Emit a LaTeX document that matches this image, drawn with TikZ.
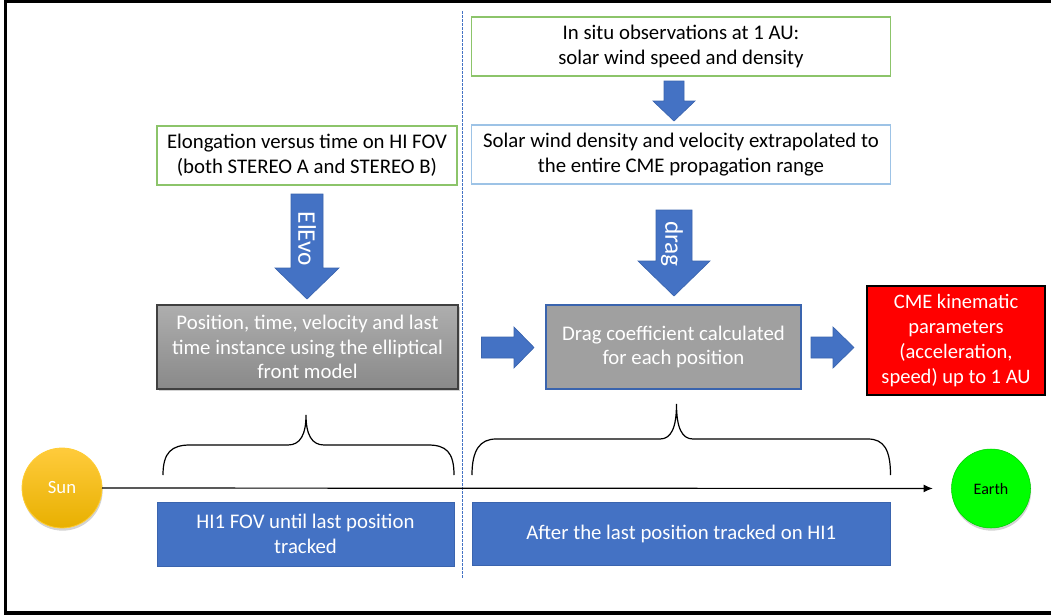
\documentclass[tikz,border=0pt]{standalone}
\usepackage{fontspec}
\setmainfont{Carlito}
\usetikzlibrary{shadows,arrows.meta}
\definecolor{obl}{HTML}{4472C4}
\definecolor{obldark}{HTML}{3A64AE}
\definecolor{lgreen}{HTML}{8CC46A}
\definecolor{lblue}{HTML}{9DC3E6}
\definecolor{sunc}{HTML}{FFC000}
\definecolor{sunl}{HTML}{FFCB3C}
\definecolor{sund}{HTML}{E8B000}
\definecolor{grayA}{HTML}{AEAEAE}
\definecolor{grayB}{HTML}{898989}
\definecolor{grayC}{HTML}{A0A0A0}
\begin{document}
\begin{tikzpicture}[x=0.75pt,y=-0.75pt,
  sz/.style 2 args={minimum width={#1*0.75pt},minimum height={#2*0.75pt}},
  base/.style={inner sep=0pt,outer sep=0pt,align=center,font=\fontsize{15.6}{18.6}\selectfont},
  greenbox/.style={base,draw=lgreen,line width=0.9pt,fill=white},
  bluebox/.style={base,draw=lblue,line width=0.9pt,fill=white},
  graybox/.style={base,draw=black!75,line width=0.9pt,top color=grayA,bottom color=grayB,text=white,
     drop shadow={shadow xshift=1.5pt,shadow yshift=-1.5pt,opacity=0.35}},
  graybox2/.style={base,draw=obldark,line width=0.8pt,fill=grayC,text=white},
  redbox/.style={base,draw=black,line width=1.1pt,fill=red,text=white,font=\fontsize{15.4}{18.8}\selectfont},
  fillbox/.style={base,draw=obldark,line width=0.6pt,fill=obl,text=white},
  blockarrow/.style={fill=obl,draw=obldark,line width=0.5pt},
  brace/.style={draw=black,line width=0.9pt},
  arrowtext/.style={text=white,rotate=-90,inner sep=0pt,font=\fontsize{19}{20}\selectfont}
]
\useasboundingbox (0,0) rectangle (1051,615);
% frame
\draw[line width=2.3pt,line cap=rect] (1052,1.5) -- (5.5,1.5) -- (5.5,613) -- (1052,613);
% dashed divider
\draw[obl,line width=0.6pt,dash pattern=on 2pt off 1pt] (462.5,11) -- (462.5,578);

% boxes
\node[greenbox,sz={300}{59}] (elong) at (307,155.5) {Elongation versus time on HI FOV\\(both STEREO A and STEREO B)};
\node[greenbox,sz={419}{59}] (insitu) at (681,46.5) {In situ observations at 1 AU:\\solar wind speed and density};
\node[bluebox,sz={419}{59}] (swext) at (681,154.5) {Solar wind density and velocity extrapolated to\\the entire CME propagation range};
\node[graybox,sz={301}{84}] (pos) at (307.5,347) {Position, time, velocity and last\\time instance using the elliptical\\front model};
\node[graybox2,sz={255}{84}] (dragc) at (673.5,347) {Drag coefficient calculated\\for each position};
\node[redbox,sz={178}{109}] (cme) at (956,340.5) {CME kinematic\\parameters\\(acceleration,\\speed) up to 1 AU};
\node[fillbox,sz={297}{64}] (hi1) at (305.5,534) {HI1 FOV until last position\\tracked};
\node[fillbox,sz={418.5}{63}] (after) at (681.25,533.5) {After the last position tracked on HI1};

% block arrows
\draw[blockarrow] (291,194) -- (323,194) -- (323,268) -- (339,268) -- (307,299) -- (275,268) -- (291,268) -- cycle;
\node[arrowtext] (elevo) at (307,239) {ElEvo};
\draw[blockarrow] (664,81) -- (684,81) -- (684,101) -- (695,101) -- (674,121) -- (653,101) -- (664,101) -- cycle;
\draw[blockarrow] (656,210) -- (692,210) -- (692,261) -- (710,261) -- (674,296) -- (638,261) -- (656,261) -- cycle;
\node[arrowtext] (dragt) at (672,244) {drag};
\draw[blockarrow] (481.5,337) -- (514,337) -- (514,327) -- (534,347.5) -- (514,368) -- (514,358) -- (481.5,358) -- cycle;
\draw[blockarrow] (811,337) -- (833,337) -- (833,327) -- (854,347.5) -- (833,368) -- (833,358) -- (811,358) -- cycle;

% braces
\draw[brace] (163,475) .. controls (163,452) and (172,445) .. (190,445) -- (288,445)
  .. controls (300,445) and (306,435) .. (306,415) .. controls (306,435) and (312,445) .. (324,445)
  -- (428,445) .. controls (446,445) and (454,452) .. (454,475);
\draw[brace] (472,475) .. controls (472,450) and (480,439) .. (496,439) -- (660,439)
  .. controls (671,439) and (676.5,428) .. (676.5,404) .. controls (676.5,428) and (682,439) .. (693,439)
  -- (868,439) .. controls (884,439) and (890.5,450) .. (890.5,475);

% Sun and Earth
\node[circle,inner sep=0pt,outer sep=0pt,minimum size={80*0.75pt},top color=sunl,bottom color=sund,draw=sunc!80!white,line width=0.6pt,
  text=white,font=\fontsize{14}{16}\selectfont,drop shadow={shadow xshift=0.5pt,shadow yshift=-2pt,opacity=0.35}] (sun) at (62,488) {Sun};
\node[circle,inner sep=0pt,outer sep=0pt,minimum size={79*0.75pt},fill=green,draw=green!80!black,line width=0.4pt,
  text=black,font=\fontsize{12}{14}\selectfont,drop shadow={shadow xshift=0.5pt,shadow yshift=-2pt,opacity=0.35}] (earth) at (991,488.5) {Earth};
\draw[line width=0.9pt,-{Latex[length=7pt,width=6pt]},shorten >=14pt] (sun) -- (earth);
\end{tikzpicture}
\end{document}
